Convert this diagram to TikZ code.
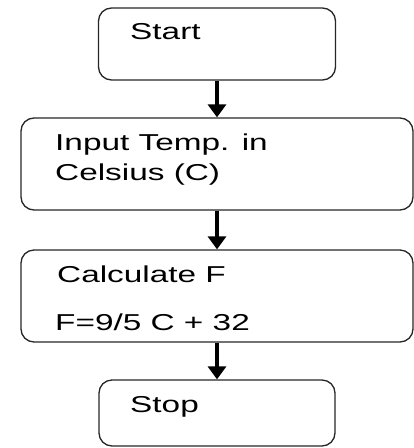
\documentclass[tikz,border=0pt]{standalone}
\usepackage{fontspec}
\setmainfont{Liberation Sans}
\usetikzlibrary{arrows.meta}

\newcommand{\wide}[1]{\scalebox{1.45}[1]{#1}}

\tikzset{
  box/.style={draw=black!85, line width=1.3pt, rounded corners=13pt,
    minimum width=#1, inner sep=0pt},
  lbl/.style={anchor=base west, inner sep=0pt, font=\fontsize{23}{27}\selectfont},
  flow/.style={line width=3.5pt, -{Triangle[width=18pt,length=13pt]}}
}

\begin{document}
\begin{tikzpicture}[x=1pt,y=-1pt]
    \useasboundingbox (0,0) rectangle (414,448);

    % boxes
    \node[box=237pt, minimum height=72pt] (start) at (217,44) {};
    \node[box=392pt, minimum height=92pt] (input) at (217,164) {};
    \node[box=392pt, minimum height=92pt] (calc) at (217,296) {};
    \node[box=236pt, minimum height=66pt] (stop) at (217,413) {};

    % texts
    \node[lbl] (tstart) at (130,39) {\wide{Start}};
    \node[lbl] (tinput) at (55,150) {\wide{Input Temp. in}};
    \node[lbl] (tcelsius) at (55,180) {\wide{Celsius (C)}};
    \node[lbl] (tcalc) at (57,282) {\wide{Calculate F}};
    \node[lbl] (tformula) at (55,330) {\wide{F=9/5 C + 32}};
    \node[lbl] (tstop) at (130,412) {\wide{Stop}};

    % arrows
    \draw[flow] (start) -- (input);
    \draw[flow] (input) -- (calc);
    \draw[flow] (calc) -- (stop);
\end{tikzpicture}
\end{document}
